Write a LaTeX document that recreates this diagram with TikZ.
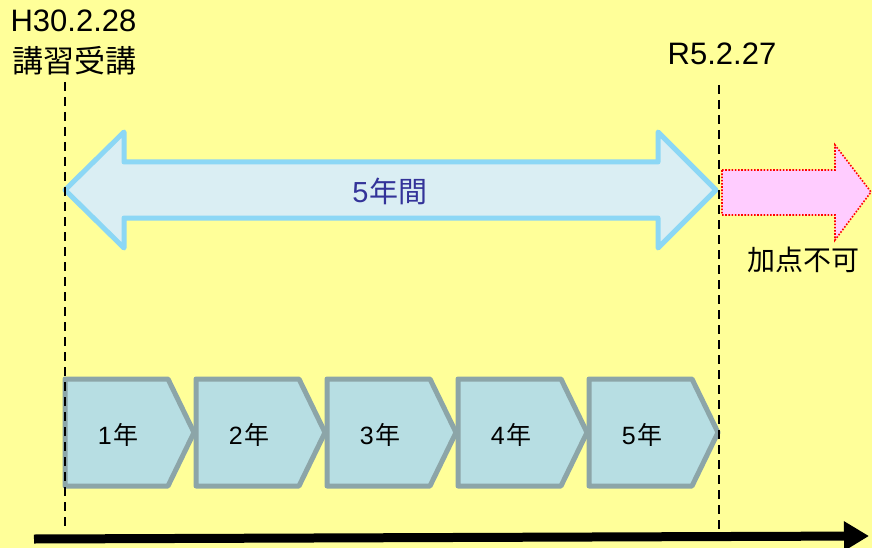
\documentclass[tikz,border=0pt]{standalone}
\usepackage{fontspec}
\setmainfont{Liberation Sans}
\newfontfamily\cjk{Noto Sans CJK JP}
\usetikzlibrary{calc,arrows.meta}
\definecolor{fondjaune}{RGB}{255,255,153}
\definecolor{bleuBord}{RGB}{140,215,245}
\definecolor{bleuFond}{RGB}{218,238,243}
\definecolor{grisBord}{RGB}{140,165,168}
\definecolor{grisFond}{RGB}{183,222,227}
\definecolor{roseFond}{RGB}{255,204,255}
\definecolor{texteBleu}{RGB}{51,51,153}

\begin{document}
\begin{tikzpicture} [x=1pt,y=-1pt,
  periode/.style=
  {draw=bleuBord,fill=bleuFond,line width=5pt,line join=round},
  annee/.style=
  {draw=grisBord,fill=grisFond,line width=5pt,line join=round},
  interdit/.style=
  {draw=red,fill=roseFond,line width=1.6pt,dash pattern=on 1.6pt off 1.6pt},
  limite/.style={draw=black,line width=1.8pt,dash pattern=on 9pt off 6pt},
  texte/.style={inner sep=0pt,font=\fontsize{31}{36}\selectfont}]
\fill[fondjaune] (0,0) rectangle (872,548);
\useasboundingbox (0,0) rectangle (872,548);

% dates
\node [texte] (dateDebut) at (73.5,21) {H30.2.28};
\node [texte] (stage) at ($(dateDebut)+(1,40)$) {\cjk 講習受講};
\node [texte] (dateFin) at (722,54) {R5.2.27};

% 5 years
\draw [periode] (65,190) -- (124,132) -- (124,162) -- (658,162) -- (658,132)
  -- (716,190) -- (658,248) -- (658,218) -- (124,218) -- (124,248) -- cycle;
\node [inner sep=0pt,text=texteBleu,font=\fontsize{29}{32}\selectfont] (duree) at (390,191) {5\hspace{1pt}{\cjk 年間}};

% after the limit
\draw [interdit] (722,170) -- (835,170) -- (835,145) -- (871,192)
  -- (835,240) -- (835,215) -- (722,215) -- cycle;
\node [inner sep=0pt,font=\fontsize{28}{30}\selectfont] (refus) at (803,260) {\cjk 加点不可};

% one box per year
\foreach \i [evaluate=\i as \x using 65+131*(\i-1)] in {1,...,5} {
  \draw [annee] (\x,379) -- ($(\x,379)+(103,0)$) -- ($(\x,379)+(129,53.5)$)
    -- ($(\x,379)+(103,107)$) -- ($(\x,379)+(0,107)$) -- cycle;
  \node [inner sep=0pt,font=\fontsize{25}{28}\selectfont] (an\i) at ($(\x,379)+(53,56)$) {\i\hspace{1.5pt}{\cjk 年}};
}

% limits
\coordinate (debutHaut) at (65,82);
\coordinate (debutBas) at (65,530);
\coordinate (finHaut) at (719,85);
\coordinate (finBas) at (719,530);
\draw [limite] (debutHaut) -- (debutBas);
\draw [limite] (finHaut) -- (finBas);

% time axis
\coordinate (axeGauche) at (34,539);
\coordinate (axeDroite) at (869,536);
\draw [line width=9pt,-{Triangle[length=25pt,width=28pt]}] (axeGauche) -- (axeDroite);

\end{tikzpicture}
\end{document}
